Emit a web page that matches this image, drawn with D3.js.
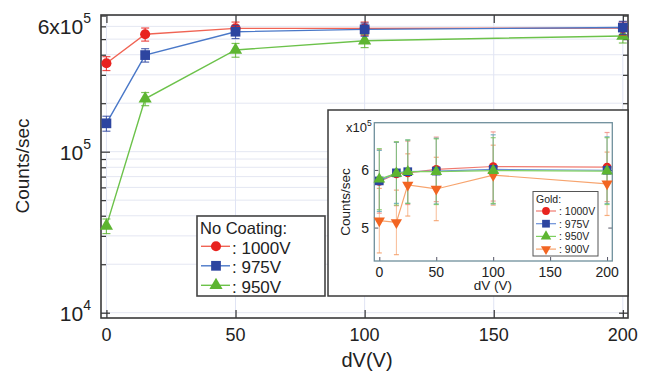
<!DOCTYPE html>
<html><head><meta charset="utf-8">
<script src="https://cdn.jsdelivr.net/npm/d3@7"></script>
<style>
html,body{margin:0;padding:0;background:#fff;}
svg{display:block;font-family:"Liberation Sans",Arial,Helvetica,sans-serif;}
</style></head>
<body>
<svg id="chart" width="651" height="371"></svg>
<script>
// ---------- main chart data (No Coating) ----------
const dV = [0, 15, 50, 100, 200];
const v1000 = [354000, 536000, 583000, 583000, 585000];
const e1000 = [35000, 50000, 55000, 55000, 55000];
const v975 = [150000, 398000, 556000, 575000, 590000];
const e975 = [16000, 38000, 52000, 54000, 55000];
const v950 = [34600, 213000, 428000, 489000, 523000];
const e950 = [3600, 20000, 42000, 46000, 50000];
const mainSeriesNames = [": 1000V", ": 975V", ": 950V"];
const mainLegendTitle = "No Coating:";
const xTicks = [0, 50, 100, 150, 200];
const yMinorTicks = [2e4,3e4,4e4,5e4,6e4,7e4,8e4,9e4,2e5,3e5,4e5,5e5,6e5,7e5];
const yMajorTicks = [1e4, 1e5];
const yTickLabels = [{v:1e4, pre:"10", exp:"4"}, {v:1e5, pre:"10", exp:"5"}, {v:6e5, pre:"6x10", exp:"5"}];

// ---------- inset data (Gold) ----------
const insetDV = [0, 15, 25, 50, 100, 200];
const g1000 = [580000, 593000, 595000, 601000, 606000, 605000];
const ge1000 = [55000, 55000, 55000, 56000, 60000, 60000];
const g975 = [581000, 595000, 597000, 598000, 601000, 599500];
const ge975 = [53000, 53000, 55000, 57000, 60000, 58000];
const g950 = [584000, 594000, 597000, 597000, 599000, 598000];
const ge950 = [53000, 55000, 55000, 57000, 57000, 58000];
const g900 = [512000, 509000, 574000, 567000, 591000, 576000];
const ge900 = [56000, 56000, 54000, 55000, 52000, 55000];
const insetNames = [": 1000V", ": 975V", ": 950V", ": 900V"];
const insetLegendTitle = "Gold:";
const insetXTicks = [0, 50, 100, 150, 200];
const insetYTicks = [500000, 600000];
const insetYTickLabels = ["5", "6"];

const svg = d3.select("#chart");

// ---------- main scales ----------
const L = 101, R = 628, T = 15, B = 318;
const x = d3.scaleLinear().domain([-2.1, 202]).range([L, R]);
const y = d3.scaleLog().domain([9270, 706000]).range([B, T]);

// grid
const grid = svg.append("g");
grid.selectAll("line.h").data(yMinorTicks.concat(yMajorTicks)).join("line")
  .attr("x1", L).attr("x2", R).attr("y1", d=>y(d)).attr("y2", d=>y(d))
  .attr("stroke", "#e4e7f2").attr("stroke-width", 1);
grid.selectAll("line.v").data(xTicks).join("line")
  .attr("x1", d=>x(d)).attr("x2", d=>x(d)).attr("y1", T).attr("y2", B)
  .attr("stroke", "#e0e4f4").attr("stroke-width", 1);

// axes with inward ticks
const axCol = "#333";
function styleAxis(g){ g.select(".domain").remove(); g.selectAll("line").attr("stroke", axCol).attr("stroke-width",1.2); g.selectAll("text").remove(); }
svg.append("g").attr("transform", `translate(${L},0)`).call(d3.axisLeft(y).tickValues(yMinorTicks).tickSize(-5)).call(styleAxis);
svg.append("g").attr("transform", `translate(${L},0)`).call(d3.axisLeft(y).tickValues(yMajorTicks).tickSize(-9)).call(styleAxis);
svg.append("g").attr("transform", `translate(${R},0)`).call(d3.axisRight(y).tickValues(yMinorTicks).tickSize(-5)).call(styleAxis);
svg.append("g").attr("transform", `translate(${R},0)`).call(d3.axisRight(y).tickValues(yMajorTicks).tickSize(-9)).call(styleAxis);
svg.append("g").attr("transform", `translate(0,${B})`).call(d3.axisBottom(x).tickValues(xTicks).tickSize(-8)).call(styleAxis);
svg.append("g").attr("transform", `translate(0,${T})`).call(d3.axisTop(x).tickValues(xTicks).tickSize(-8)).call(styleAxis);

// frame
svg.append("rect").attr("x", L).attr("y", T).attr("width", R-L).attr("height", B-T)
  .attr("fill", "none").attr("stroke", "#3a3a3a").attr("stroke-width", 1.6);

// tick labels
svg.selectAll("text.xt").data(xTicks).join("text")
  .attr("x", d=>x(d)).attr("y", 341).attr("text-anchor","middle")
  .attr("font-size", 18).attr("fill","#222").text(d=>d);
const yl = svg.selectAll("text.yt").data(yTickLabels).join("text")
  .attr("x", 91).attr("y", d=>y(d.v)+8).attr("text-anchor","end")
  .attr("font-size", 21).attr("fill","#222");
yl.append("tspan").text(d=>d.pre);
yl.append("tspan").attr("dy", -11).attr("font-size", 14).text(d=>d.exp);

// axis titles
svg.append("text").attr("transform","translate(29,166) rotate(-90)").attr("text-anchor","middle")
  .attr("font-size", 19).attr("fill","#222").text("Counts/sec");
svg.append("text").attr("x", 367).attr("y", 367).attr("text-anchor","middle")
  .attr("font-size", 20).attr("fill","#222").text("dV(V)");

// series
const mainSeries = [
  {v:v950, e:e950, line:"#6cc24a", mark:"#5db531", sym:d3.symbolTriangle, size:75, name:mainSeriesNames[2], ecol:"#5db531"},
  {v:v1000, e:e1000, line:"#f06454", mark:"#e8231f", sym:d3.symbolCircle, size:80, name:mainSeriesNames[0], ecol:"#e8231f"},
  {v:v975, e:e975, line:"#4a78c8", mark:"#2d45a0", sym:d3.symbolSquare, size:95, name:mainSeriesNames[1], ecol:"#2d45a0"}
];
const lineGen = d3.line().x((d,i)=>x(dV[i])).y(d=>y(d));
mainSeries.forEach(s=>{
  const g = svg.append("g");
  g.append("path").attr("d", lineGen(s.v)).attr("fill","none").attr("stroke", s.line).attr("stroke-width",1.4);
  s.v.forEach((val,i)=>{
    const cx = x(dV[i]);
    const y1 = y(val + s.e[i]), y2 = y(val - s.e[i]);
    g.append("line").attr("x1",cx).attr("x2",cx).attr("y1",y1).attr("y2",y2).attr("stroke", s.ecol).attr("stroke-width",1.2).attr("opacity",0.8);
    [y1,y2].forEach(yy=>g.append("line").attr("x1",cx-4).attr("x2",cx+4).attr("y1",yy).attr("y2",yy).attr("stroke", s.ecol).attr("stroke-width",1.2).attr("opacity",0.8));
  });
  g.selectAll("path.m").data(s.v).join("path")
    .attr("transform",(d,i)=>`translate(${x(dV[i])},${y(d)})`)
    .attr("d", d3.symbol().type(s.sym).size(s.size)).attr("fill", s.mark);
});

// main legend
const lg = svg.append("g");
lg.append("rect").attr("x",197).attr("y",216).attr("width",128).attr("height",80)
  .attr("fill","#fff").attr("stroke","#444").attr("stroke-width",1.6);
lg.append("text").attr("x",200).attr("y",234).attr("font-size",16.5).attr("fill","#222").text(mainLegendTitle);
const legOrder = [mainSeries[1], mainSeries[2], mainSeries[0]];
legOrder.forEach((s,i)=>{
  const yy = 246.3 + i*19.5;
  lg.append("line").attr("x1",201).attr("x2",230).attr("y1",yy).attr("y2",yy).attr("stroke",s.line).attr("stroke-width",1.4);
  lg.append("path").attr("transform",`translate(216,${yy})`).attr("d", d3.symbol().type(s.sym).size(s.size)).attr("fill", s.mark);
  lg.append("text").attr("x",232).attr("y",yy+7.2).attr("font-size",17).attr("fill","#222").text(s.name);
});

// ---------- inset ----------
svg.append("rect").attr("x",328).attr("y",110).attr("width",300).attr("height",186)
  .attr("fill","#fff").attr("stroke","#3a3a3a").attr("stroke-width",1.5);
const iL = 374.3, iR = 612.3, iT = 122.7, iB = 261;
const ix = d3.scaleLinear().domain([-4.4, 204.6]).range([iL, iR]);
const iy = d3.scaleLinear().domain([442000, 682000]).range([iB, iT]);
const ig = svg.append("g");
function styleIn(g){ g.select(".domain").remove(); g.selectAll("line").attr("stroke","#556").attr("stroke-width",1); g.selectAll("text").remove(); }
ig.append("g").attr("transform",`translate(0,${iB})`).call(d3.axisBottom(ix).tickValues(insetXTicks).tickSize(-4)).call(styleIn);
ig.append("g").attr("transform",`translate(${iL},0)`).call(d3.axisLeft(iy).tickValues(insetYTicks).tickSize(-4)).call(styleIn);
ig.append("g").attr("transform",`translate(${iR},0)`).call(d3.axisRight(iy).tickValues(insetYTicks).tickSize(-4)).call(styleIn);
ig.append("rect").attr("x",iL).attr("y",iT).attr("width",iR-iL).attr("height",iB-iT)
  .attr("fill","none").attr("stroke","#6f8f9c").attr("stroke-width",1.3);
ig.selectAll("text.ixt").data(insetXTicks).join("text")
  .attr("x",d=>ix(d)).attr("y",276.5).attr("text-anchor","middle").attr("font-size",14).attr("fill","#222").text(d=>d);
ig.selectAll("text.iyt").data(insetYTicks).join("text")
  .attr("x",369).attr("y",d=>iy(d)+5).attr("text-anchor","end").attr("font-size",14).attr("fill","#222")
  .text((d,i)=>insetYTickLabels[i]);
const xl = ig.append("text").attr("x",346).attr("y",132).attr("font-size",13).attr("fill","#222");
xl.append("tspan").text("x10");
xl.append("tspan").attr("dy",-6).attr("font-size",8.5).text("5");
ig.append("text").attr("transform","translate(350,202) rotate(-90)").attr("text-anchor","middle")
  .attr("font-size",13.5).attr("fill","#222").text("Counts/sec");
ig.append("text").attr("x",493).attr("y",290).attr("text-anchor","middle")
  .attr("font-size",13.5).attr("fill","#222").text("dV (V)");

const insetSeries = [
  {v:g900, e:ge900, line:"#f7a46e", mark:"#f26522", sym:d3.symbolTriangle, rot:180, size:55, name:insetNames[3], ecol:"#f59a60"},
  {v:g1000, e:ge1000, line:"#f07a70", mark:"#e8231f", sym:d3.symbolCircle, rot:0, size:60, name:insetNames[0], ecol:"#f08a80"},
  {v:g975, e:ge975, line:"#6a8fd8", mark:"#2d45a0", sym:d3.symbolSquare, rot:0, size:75, name:insetNames[1], ecol:"#5aa6b8"},
  {v:g950, e:ge950, line:"#7fd060", mark:"#5db531", sym:d3.symbolTriangle, rot:0, size:60, name:insetNames[2], ecol:"#7cc860"}
];
const iline = d3.line().x((d,i)=>ix(insetDV[i])).y(d=>iy(d));
// error bars first
insetSeries.forEach(s=>{
  s.v.forEach((val,i)=>{
    const cx = ix(insetDV[i]);
    const y1 = iy(val + s.e[i]), y2 = iy(val - s.e[i]);
    ig.append("line").attr("x1",cx).attr("x2",cx).attr("y1",y1).attr("y2",y2).attr("stroke",s.ecol).attr("stroke-width",1).attr("opacity",0.65);
    [y1,y2].forEach(yy=>ig.append("line").attr("x1",cx-2.5).attr("x2",cx+2.5).attr("y1",yy).attr("y2",yy).attr("stroke",s.ecol).attr("stroke-width",1.2).attr("opacity",0.8));
  });
});
insetSeries.forEach(s=>{
  ig.append("path").attr("d", iline(s.v)).attr("fill","none").attr("stroke",s.line).attr("stroke-width",1.2);
  ig.selectAll(null).data(s.v).join("path")
    .attr("transform",(d,i)=>`translate(${ix(insetDV[i])},${iy(d)}) rotate(${s.rot})`)
    .attr("d", d3.symbol().type(s.sym).size(s.size)).attr("fill", s.mark);
});
// inset legend
const il = svg.append("g");
il.append("rect").attr("x",533).attr("y",191.5).attr("width",65).attr("height",64.5)
  .attr("fill","#fff").attr("stroke","#555").attr("stroke-width",1);
il.append("text").attr("x",536).attr("y",203).attr("font-size",10.5).attr("fill","#222").text(insetLegendTitle);
const iOrder = [insetSeries[1], insetSeries[2], insetSeries[3], insetSeries[0]];
iOrder.forEach((s,i)=>{
  const yy = 211 + i*12.7;
  il.append("line").attr("x1",536).attr("x2",556).attr("y1",yy).attr("y2",yy).attr("stroke",s.line).attr("stroke-width",1.2);
  il.append("path").attr("transform",`translate(546,${yy}) rotate(${s.rot})`).attr("d", d3.symbol().type(s.sym).size(s.size*0.8)).attr("fill", s.mark);
  il.append("text").attr("x",559).attr("y",yy+4).attr("font-size",10.5).attr("fill","#222").text(s.name);
});
</script>
</body></html>
